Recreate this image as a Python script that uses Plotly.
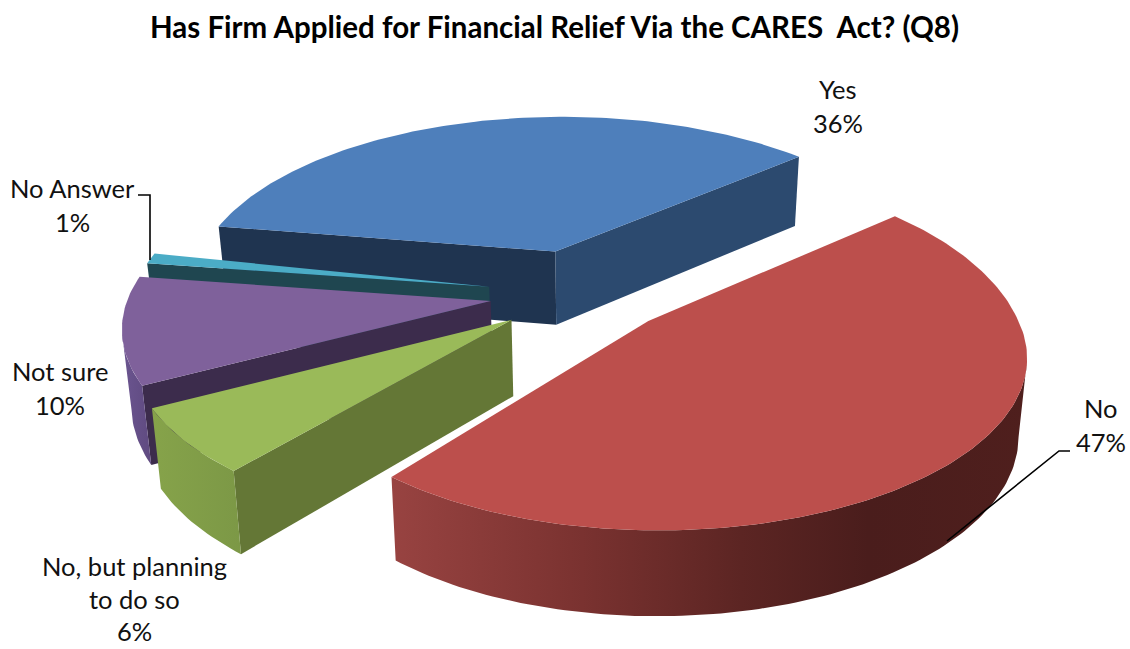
import math
import plotly.graph_objects as go

# ---- data ----
categories = ["Yes", "No", "No, but planning to do so", "Not sure", "No Answer"]
shares = [36, 47, 6, 10, 1]
title_text = "Has Firm Applied for Financial Relief Via the CARES  Act? (Q8)"

# ---- style ----
top_colors = ["#4E7FBB", "#BC4F4C", "#9ABA59", "#7F619B", "#4BACC6"]
start_wall = ["#1F3450", "#5a2523", "#647736", "#3C2C4C", "#1F4650"]
end_wall = ["#2C4A6F", "#5a2523", "#647736", "#3C2C4C", "#1F4650"]
outer_scale = [
    [[0, "#2C4A6F"], [1, "#2C4A6F"]],
    [[0, "#984341"], [0.3, "#7a3230"], [0.55, "#5c2523"], [0.75, "#4a1d1c"], [1, "#4f1f1d"]],
    [[0, "#86A34A"], [1, "#7C9846"]],
    [[0, "#6B5590"], [1, "#5F4A80"]],
    [[0, "#1F4650"], [1, "#1F4650"]],
]
FONT = "Lato"
TEXT = "#111111"

# pie projection (pixels of the 1130x649 canvas)
CX, CY = 581, 292          # pie centre
R, RQ, P = 360, 164, 0.217 # radius, squashed radius, perspective
EXPLODE = 0.257
FIRST_CUT = 48.7           # degrees: Yes/No boundary, clockwise from the far side
VX = 600                   # vanishing x for the extrusion
# small per-slice rim corrections standing in for the original's true 3D perspective
RIM_DX = [7, 10, -11, 0, 9]
RIM_DY = [0, 0, -5, -9, -8]
RIM_LIFT = [0, 15, 0, 0, 0]


def proj(t, i):
    u, v = math.sin(t), math.cos(t)
    w = 1 + P * v
    return (R * u / w + RIM_DX[i],
            -RQ * v / w + RIM_DY[i] - RIM_LIFT[i] * max(0.0, v))


def drop(x, y):
    return VX + (x - VX) * 0.98, y + 62 + 0.045 * y


def polygon(name, xs, ys, color=None, scale=None):
    kw = {}
    if scale is not None:
        kw["fillgradient"] = dict(type="horizontal", colorscale=scale)
    else:
        kw["fillcolor"] = color
    return go.Scatter(x=xs + xs[:1], y=ys + ys[:1], mode="lines", fill="toself",
                      line=dict(width=0), name=name, hoveron="fills",
                      showlegend=False, **kw)


total = sum(shares)
angles = {}
cut = FIRST_CUT - shares[0] / total * 360
for i, s in enumerate(shares):
    angles[i] = (cut, cut + s / total * 360)
    cut += s / total * 360

fig = go.Figure()

for i in [0, 4, 3, 2, 1]:
    a0, a1 = map(math.radians, angles[i])
    mid = (a0 + a1) / 2
    ax = CX + EXPLODE * R * math.sin(mid)
    ay = CY - EXPLODE * RQ * math.cos(mid)
    n = max(3, int(math.degrees(a1 - a0)))
    ts = [a0 + (a1 - a0) * k / n for k in range(n + 1)]
    arc = [proj(t, i) for t in ts]
    sx, sy = arc[0]
    ex, ey = arc[-1]
    mx, my = proj(mid, i)
    label = f"{categories[i]}: {shares[i]}%"
    # straight walls, drawn only when they face the viewer
    for (px, py), col in (((sx, sy), start_wall[i]), ((ex, ey), end_wall[i])):
        if my < py * mx / px:
            b0 = drop(ax, ay)
            b1 = drop(ax + px, ay + py)
            fig.add_trace(polygon(label, [ax, ax + px, b1[0], b0[0]],
                                  [ay, ay + py, b1[1], b0[1]], color=col))
    # outer wall, near half of the rim only
    near = [(ax + x, ay + y) for t, (x, y) in zip(ts, arc) if math.cos(t) < -P]
    if len(near) > 1:
        low = [drop(x, y) for x, y in reversed(near)]
        pts = near + low
        fig.add_trace(polygon(label, [p[0] for p in pts], [p[1] for p in pts],
                              scale=outer_scale[i]))
    # top face
    fig.add_trace(polygon(label, [ax] + [ax + x for x, y in arc],
                          [ay] + [ay + y for x, y in arc], color=top_colors[i]))

# leader lines
for xs, ys in (([138, 150, 150], [195, 195, 260]), ([1070, 1059, 947], [451, 451, 541])):
    fig.add_trace(go.Scatter(x=xs, y=ys, mode="lines", hoverinfo="skip", showlegend=False,
                             line=dict(color="#000000", width=1.6)))

label_lines = [
    (838, [89, 123], ["Yes", f"{shares[0]}%"]),
    (1101, [408, 442], ["No", f"{shares[1]}%"]),
    (134, [566, 599, 631], ["No, but planning", "to do so", f"{shares[2]}%"]),
    (60, [371, 405], ["Not sure", f"{shares[3]}%"]),
    (72, [188, 222], ["No Answer", f"{shares[4]}%"]),
]
annotations = [dict(x=554, y=26, text=f"<b>{title_text}</b>", showarrow=False,
                    font=dict(family=FONT, size=29.5, color="#000000"))]
for x, ys, lines in label_lines:
    for y, line in zip(ys, lines):
        annotations.append(dict(x=x, y=y, text=line, showarrow=False,
                                font=dict(family=FONT, size=25.5, color=TEXT)))

fig.update_layout(
    width=1130, height=649, margin=dict(l=0, r=0, t=0, b=0),
    paper_bgcolor="white", plot_bgcolor="white", showlegend=False,
    xaxis=dict(range=[0, 1130], visible=False, fixedrange=True),
    yaxis=dict(range=[649, 0], visible=False, fixedrange=True),
    annotations=annotations,
)
fig.write_html("out.html", post_script="document.body.style.margin='0';",
               config={"displayModeBar": False})
